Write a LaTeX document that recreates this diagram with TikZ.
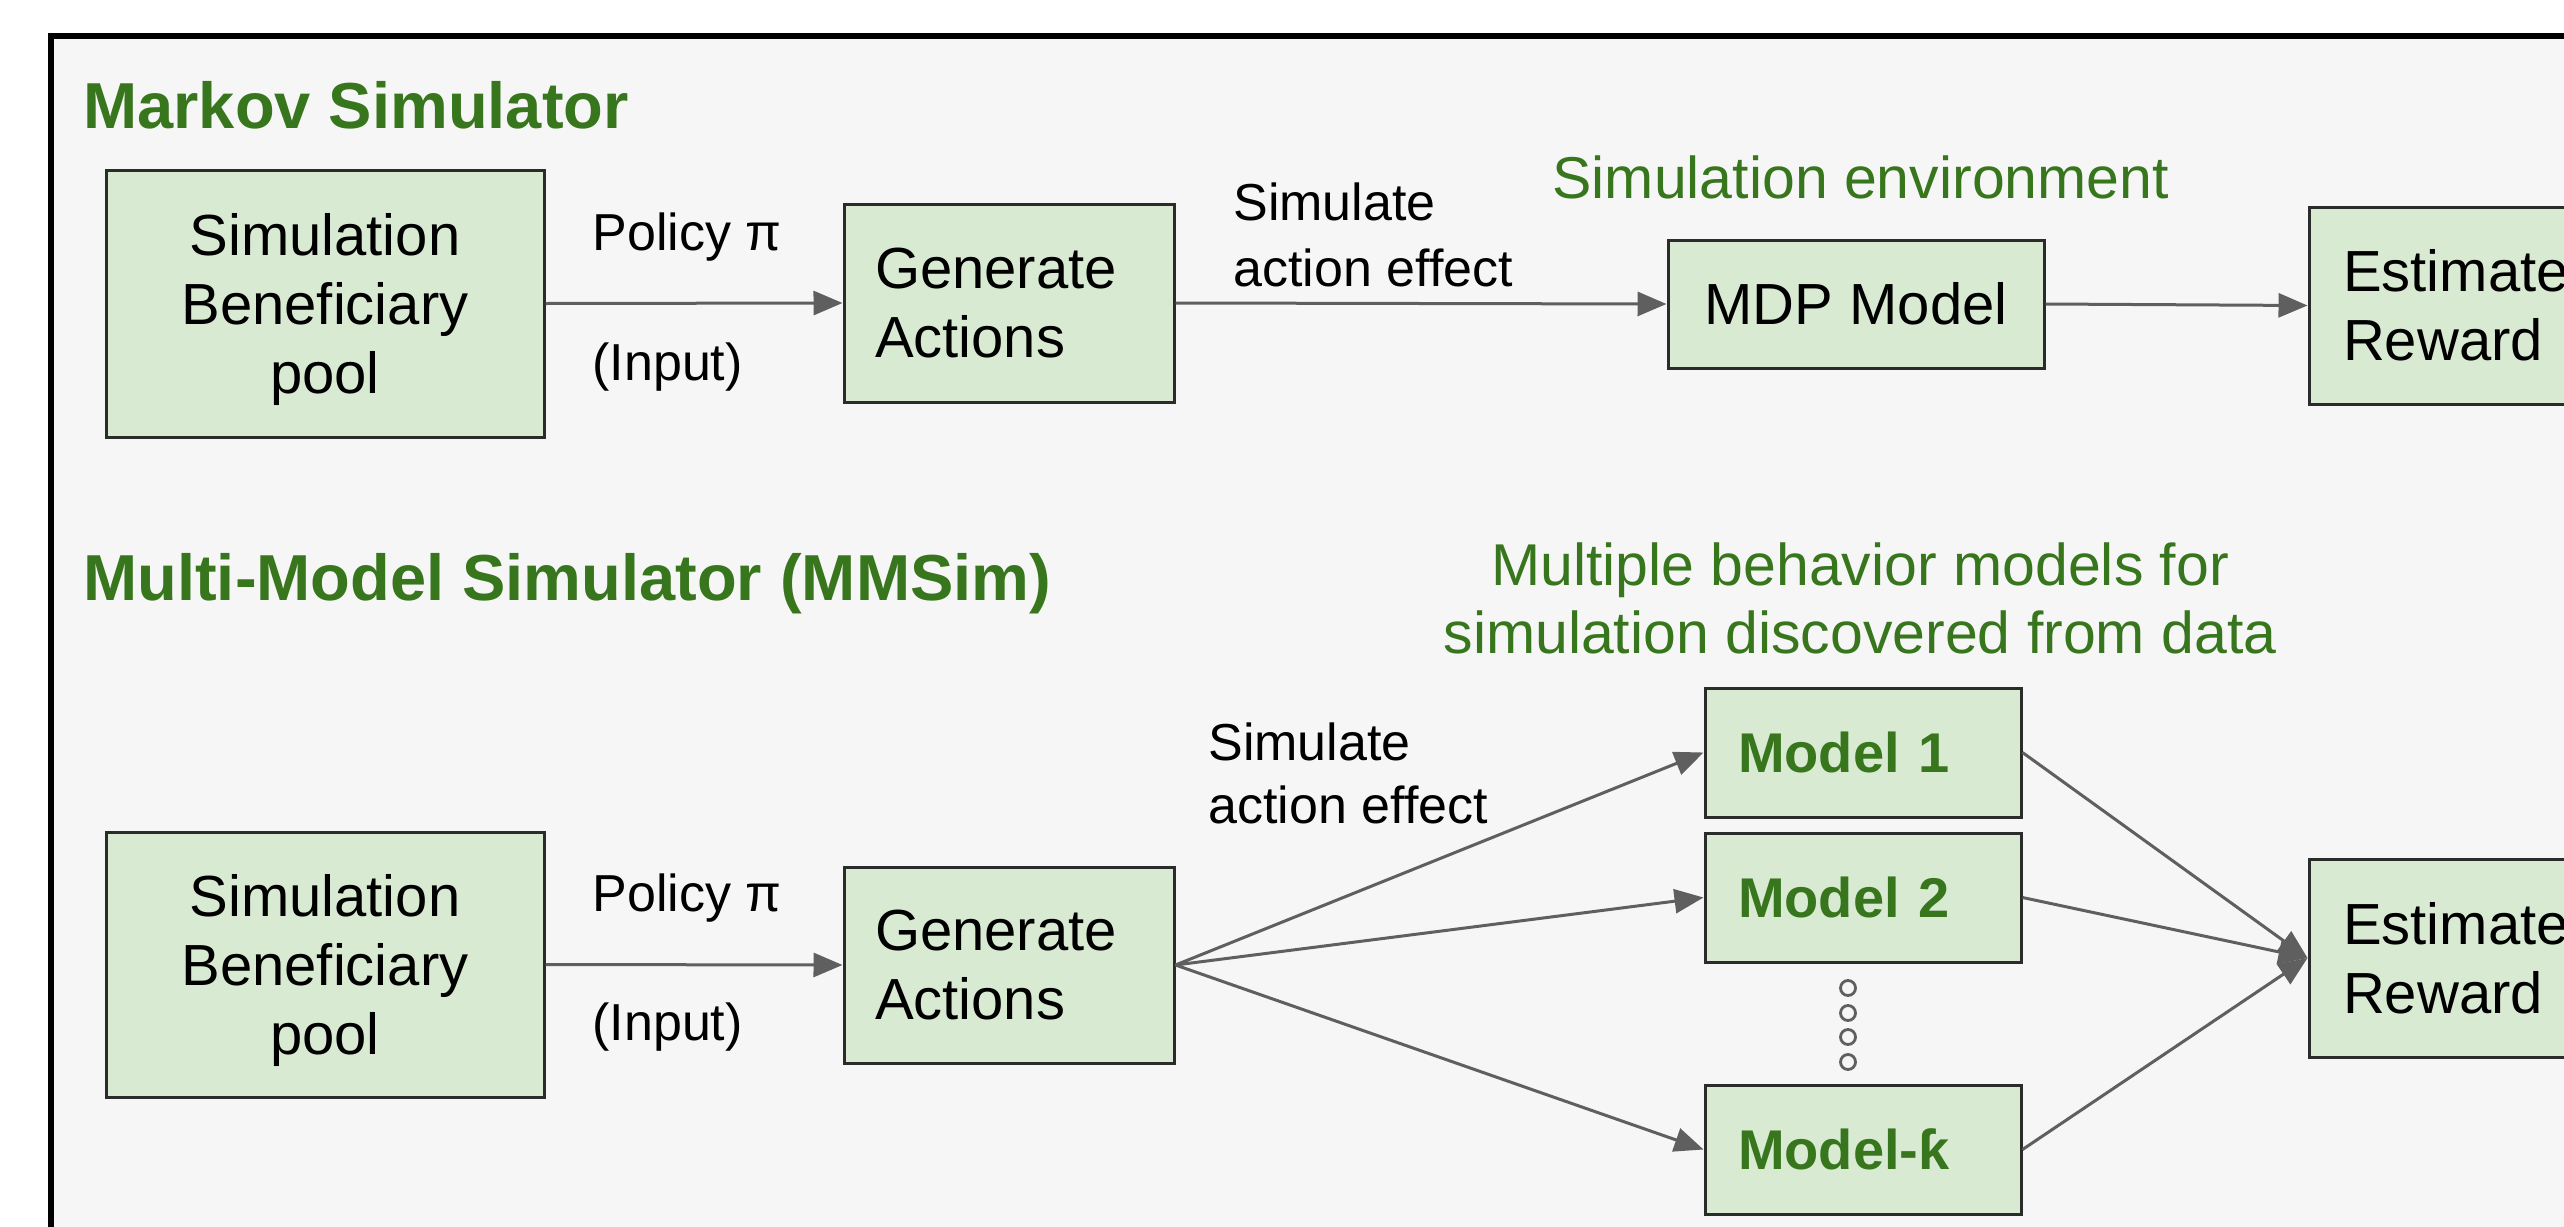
\documentclass[tikz,border=0pt]{standalone}
\usepackage{fontspec}
\setmainfont{Liberation Sans}
\usetikzlibrary{arrows.meta}
\definecolor{pagebg}{HTML}{F6F6F6}
\definecolor{headgreen}{HTML}{38761D}
\definecolor{boxfill}{HTML}{D9EAD3}
\definecolor{boxline}{HTML}{2B2B2B}
\definecolor{arrowgray}{HTML}{5F5F5F}
\begin{document}
\begin{tikzpicture}[x=0.5pt,y=-0.5pt,
  block/.style={draw=boxline, fill=boxfill, line width=1.5pt, inner sep=0pt,
    font=\fontsize{29}{34.5}\selectfont},
  leftblock/.style={block, align=left, inner xsep=#1},
  poolbox/.style={block, minimum width=219pt, align=center, text depth=0pt},
  modelbox/.style={block, minimum width=158pt, minimum height=64.5pt,
    text width=125pt, inner xsep=16.5pt, align=left, text=headgreen,
    font=\bfseries\fontsize{28}{33}\selectfont},
  lbl/.style={anchor=base west, inner sep=0pt, font=\fontsize{26}{32}\selectfont},
  note/.style={anchor=base, inner sep=0pt, text=headgreen,
    font=\fontsize{29.5}{34}\selectfont},
  heading/.style={anchor=base west, inner sep=0pt, text=headgreen,
    font=\bfseries\fontsize{32.5}{38}\selectfont},
  conn/.style={draw=arrowgray, line width=1.5pt, -{Triangle[length=14.5pt,width=12pt]}},
  dotmark/.style={circle, draw=arrowgray, line width=1.4pt, minimum size=7.5pt, inner sep=0pt}
]
\useasboundingbox (0,0) rectangle (2564,1226);
\clip (0,0) rectangle (2564,1226);
\fill[white] (0,0) rectangle (2564,1226);
% outer panel
\draw[line width=2.75pt, fill=pagebg] (51,36) rectangle (2720,1320);

% ---------- Markov simulator ----------
\node[heading] (t1) at (83,128) {Markov Simulator};
\node[poolbox, minimum height=133.5pt]
  (pool1) at (325,303.5) {Simulation\\Beneficiary\\pool};
\node[leftblock=15.5pt, minimum width=165pt, minimum height=99pt, text width=134pt]
  (gen1) at (1009,303) {Generate\\Actions};
\node[block, minimum width=188pt, minimum height=64pt] (mdp) at (1856,304) {MDP Model};
\node[leftblock=17pt, minimum width=165pt, minimum height=98.5pt, text width=131pt]
  (est1) at (2474,305.5) {Estimate\\Reward};

\node[lbl] (pol1) at (592,250) {Policy π};
\node[lbl] (inp1) at (592,380) {(Input)};
\node[lbl] (sim1) at (1233,220) {Simulate};
\node[lbl] (act1) at (1233,286) {action effect};
\node[note, anchor=base west] (env1) at (1552,198) {Simulation environment};

\draw[conn] (pool1.east) -- (gen1.west);
\draw[conn] (gen1.east) -- (mdp.west);
\draw[conn] (mdp.east) -- (est1.west);

% ---------- Multi-model simulator ----------
\node[heading] (t2) at (83,600) {Multi-Model Simulator (MMSim)};
\node[poolbox, minimum height=132.5pt]
  (pool2) at (325,964.5) {Simulation\\Beneficiary\\pool};
\node[leftblock=15.5pt, minimum width=165pt, minimum height=98pt, text width=134pt]
  (gen2) at (1009,965) {Generate\\Actions};
\node[leftblock=17pt, minimum width=165pt, minimum height=99pt, text width=131pt]
  (est2) at (2474,958) {Estimate\\Reward};

\node[modelbox] (m1) at (1863,752.5) {Model 1};
\node[modelbox] (m2) at (1863,897.5) {Model 2};
\node[modelbox] (mk) at (1863,1149.5) {Model-ƙ};

\foreach \yy/\nm in {988/d1, 1013/d2, 1037/d3, 1062/d4}
  \node[dotmark] (\nm) at (1848,\yy) {};

\node[lbl] (pol2) at (592,911) {Policy π};
\node[lbl] (inp2) at (592,1040) {(Input)};
\node[lbl] (sim2) at (1208,760) {Simulate};
\node[lbl] (act2) at (1208,823) {action effect};
\node[note] (mult1) at (1860,585) {Multiple behavior models for};
\node[note] (mult2) at (1860,653) {simulation discovered from data};

\draw[conn] (pool2.east) -- (gen2.west);
\draw[conn] (gen2.east) -- (m1.west);
\draw[conn] (gen2.east) -- (m2.west);
\draw[conn] (gen2.east) -- (mk.west);
\draw[conn] (m1.east) -- (est2.west);
\draw[conn] (m2.east) -- (est2.west);
\draw[conn] (mk.east) -- (est2.west);
\end{tikzpicture}
\end{document}
